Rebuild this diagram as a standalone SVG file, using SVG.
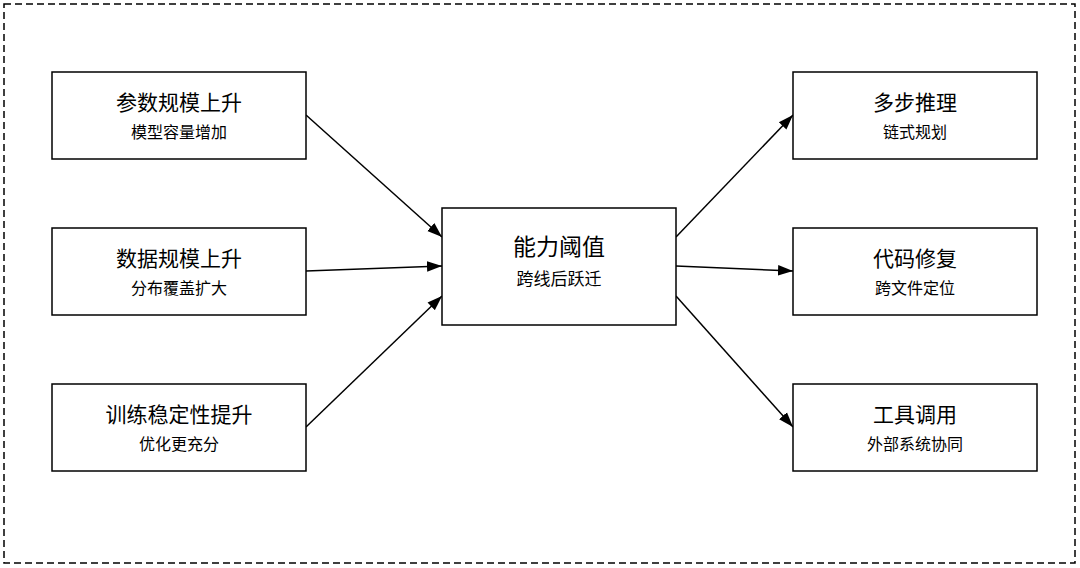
<svg xmlns="http://www.w3.org/2000/svg" width="1080" height="568" viewBox="0 0 1080 568">
<defs>
<style>
.box{fill:#fff;stroke:#000;stroke-width:1.5}
.t{font-family:"Liberation Sans","Noto Sans CJK SC",sans-serif;font-size:21px;text-anchor:middle;fill:#000}
.s{font-family:"Liberation Sans","Noto Sans CJK SC",sans-serif;font-size:16px;text-anchor:middle;fill:#000}
.ct{font-family:"Liberation Sans","Noto Sans CJK SC",sans-serif;font-size:23px;text-anchor:middle;fill:#000}
.cs{font-family:"Liberation Sans","Noto Sans CJK SC",sans-serif;font-size:17px;text-anchor:middle;fill:#000}
.c{stroke:#000;stroke-width:1.5;fill:none;marker-end:url(#a)}
</style>
<marker id="a" viewBox="0 0 10 10" refX="10" refY="5" markerWidth="15" markerHeight="15" markerUnits="userSpaceOnUse" orient="auto"><path d="M0,1.5L10,5L0,8.5z" fill="#000"/></marker>
</defs>
<rect x="0" y="0" width="1080" height="568" fill="#fff"/>
<rect x="4" y="4" width="1071" height="559" fill="none" stroke="#000" stroke-width="1.5" stroke-dasharray="7,4"/>
<g id="connectors">
<line class="c" x1="306" y1="115" x2="442" y2="237"/>
<line class="c" x1="306" y1="271" x2="442" y2="266"/>
<line class="c" x1="306" y1="427" x2="442" y2="296"/>
<line class="c" x1="676" y1="237" x2="793" y2="115"/>
<line class="c" x1="676" y1="266" x2="793" y2="271"/>
<line class="c" x1="676" y1="296" x2="793" y2="427"/>
</g>
<g id="n1"><rect class="box" x="52" y="72" width="254" height="87"/><text class="t" x="179" y="110">参数规模上升</text><text class="s" x="179" y="138">模型容量增加</text></g>
<g id="n2"><rect class="box" x="52" y="228" width="254" height="87"/><text class="t" x="179" y="266">数据规模上升</text><text class="s" x="179" y="294">分布覆盖扩大</text></g>
<g id="n3"><rect class="box" x="52" y="384" width="254" height="87"/><text class="t" x="179" y="422">训练稳定性提升</text><text class="s" x="179" y="450">优化更充分</text></g>
<g id="center"><rect class="box" x="442" y="208" width="234" height="117"/><text class="ct" x="559" y="255">能力阈值</text><text class="cs" x="559" y="285">跨线后跃迁</text></g>
<g id="r1"><rect class="box" x="793" y="72" width="244" height="87"/><text class="t" x="915" y="110">多步推理</text><text class="s" x="915" y="138">链式规划</text></g>
<g id="r2"><rect class="box" x="793" y="228" width="244" height="87"/><text class="t" x="915" y="266">代码修复</text><text class="s" x="915" y="294">跨文件定位</text></g>
<g id="r3"><rect class="box" x="793" y="384" width="244" height="87"/><text class="t" x="915" y="422">工具调用</text><text class="s" x="915" y="450">外部系统协同</text></g>
</svg>
